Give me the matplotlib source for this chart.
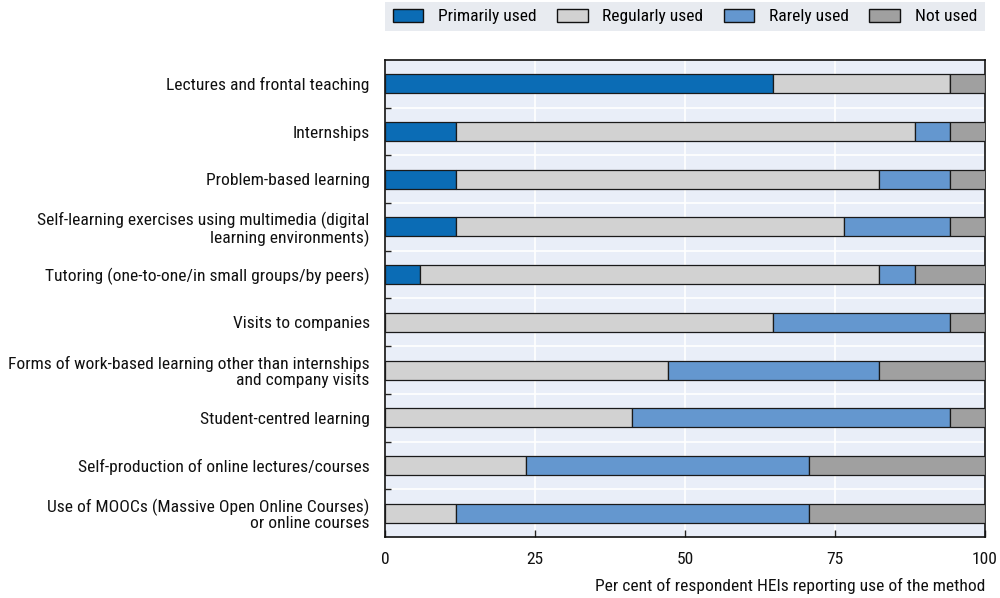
import matplotlib
matplotlib.use("Agg")
import matplotlib.pyplot as plt
from matplotlib.patches import Rectangle
import numpy as np

plt.rcParams['font.family'] = ['Roboto Condensed', 'DejaVu Sans']

categories = [
    "Lectures and frontal teaching",
    "Internships",
    "Problem-based learning",
    "Self-learning exercises using multimedia (digital\nlearning environments)",
    "Tutoring (one-to-one/in small groups/by peers)",
    "Visits to companies",
    "Forms of work-based learning other than internships\nand company visits",
    "Student-centred learning",
    "Self-production of online lectures/courses",
    "Use of MOOCs (Massive Open Online Courses)\nor online courses",
]
primarily = [64.7, 11.8, 11.8, 11.8, 5.9, 0, 0, 0, 0, 0]
regularly = [29.4, 76.5, 70.6, 64.7, 76.5, 64.7, 47.1, 41.2, 23.5, 11.8]
rarely = [0, 5.9, 11.8, 17.6, 5.9, 29.4, 35.3, 52.9, 47.1, 58.8]
not_used = [5.9, 5.9, 5.9, 5.9, 11.8, 5.9, 17.6, 5.9, 29.4, 29.4]
series_names = ["Primarily used", "Regularly used", "Rarely used", "Not used"]
colors = ["#0b6cb5", "#d2d2d2", "#6497cf", "#a0a0a0"]
xticks = [0, 25, 50, 75, 100]

W, H = 1000, 598
fig = plt.figure(figsize=(W/100, H/100), dpi=100)
ax = fig.add_axes([385/W, 1 - 537/H, 600/W, (537-60)/H])
ax.set_facecolor("#e9eef8")

# legend background
fig.patches.append(Rectangle((385/W, 1 - 31/H), 600/W, 29/H, transform=fig.transFigure,
                             facecolor="#e8ebf0", edgecolor='none', zorder=0))

y = np.arange(len(categories))
left = np.zeros(len(categories))
handles = []
for vals, name, c in zip([primarily, regularly, rarely, not_used], series_names, colors):
    vals = np.array(vals, dtype=float)
    h = ax.barh(y, vals, left=left, height=0.4, color=c, edgecolor="#1a1a1a", linewidth=0.9, label=name, zorder=3)
    handles.append(h)
    left += vals

fs = 12.6
ax.set_ylim(len(categories) - 0.5, -0.5)
ax.set_xlim(0, 100)
ax.set_yticks(y)
ax.set_yticklabels(categories, fontsize=fs, linespacing=1.05, color='#111111')
ax.set_yticks(np.arange(0.5, len(categories) - 0.5, 1), minor=True)
ax.tick_params(axis='y', which='major', length=0, pad=11)
ax.tick_params(axis='y', which='minor', length=4, direction='in', width=1, color='#222222')
ax.set_xticks(xticks)
ax.set_xticklabels([str(t) for t in xticks], fontsize=fs, color='#111111')
ax.tick_params(axis='x', which='major', length=5, direction='in', pad=11, width=1, color='#222222')
ax.grid(axis='x', which='major', color='white', linewidth=1.2, zorder=1)
ax.grid(axis='y', which='minor', color='white', linewidth=1.2, zorder=1)
ax.set_axisbelow(True)
for s in ax.spines.values():
    s.set_color('#111111')
    s.set_linewidth(1.2)

ax.set_xlabel("Per cent of respondent HEIs reporting use of the method", fontsize=fs,
              loc='right', labelpad=8, color='#111111')

leg = fig.legend(handles=handles, labels=series_names, loc='center',
                 bbox_to_anchor=(685/W, 1 - 16.5/H), ncol=4,
                 frameon=False, fontsize=fs, handlelength=1.75, handleheight=0.8,
                 borderaxespad=0, handletextpad=0.85, columnspacing=1.15, borderpad=0.0)
for p in leg.get_patches():
    p.set_edgecolor("#111111")
    p.set_linewidth(1.0)

fig.savefig("out.png", dpi=100)
